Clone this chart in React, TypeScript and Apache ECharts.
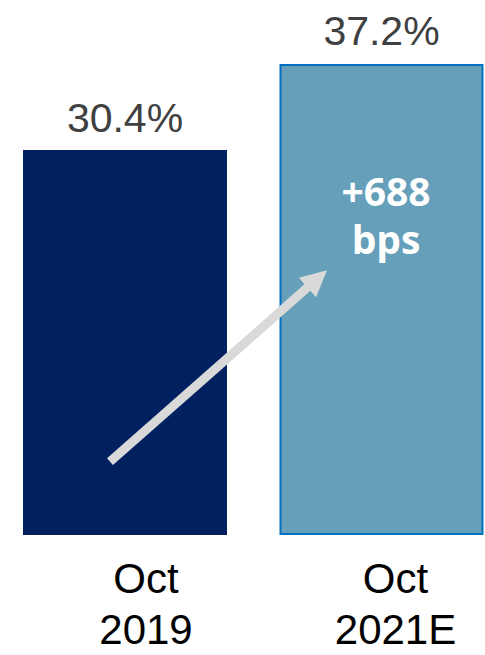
import React, { useEffect, useRef } from "react";
import * as echarts from "echarts";

const categories = ["Oct\n2019", "Oct\n2021E"];
const values = [30.4, 37.2];
const valueLabels = ["30.4%", "37.2%"];
const changeLabel = "+688\nbps";

export default function App() {
  const ref = useRef<HTMLDivElement>(null);
  useEffect(() => {
    if (!ref.current) return;
    const chart = echarts.init(ref.current, null, { renderer: "svg" });
    const labelPads = [[0, 0, 0, 42], [0, 0, 0, 28]];
    chart.setOption({
      animation: false,
      grid: { left: 125, right: 103.5, top: 28.5, bottom: 118.5, containLabel: false },
      xAxis: {
        type: "category",
        boundaryGap: false,
        data: categories.map((c, i) => ({ value: c, textStyle: { padding: labelPads[i] } })),
        axisLine: { show: false },
        axisTick: { show: false },
        splitLine: { show: false },
        axisLabel: {
          margin: 18,
          fontSize: 42,
          lineHeight: 51,
          color: "#000000",
          fontFamily: "Liberation Sans",
          interval: 0,
        },
      },
      yAxis: { type: "value", min: 0, max: 40, show: false, splitLine: { show: false } },
      series: [
        {
          type: "bar",
          barWidth: 204,
          clip: false,
          data: values.map((v, i) => ({
            value: v,
            itemStyle:
              i === 0
                ? { color: "#002060" }
                : { color: "#659FBA", borderColor: "#0070C0", borderWidth: 2 },
          })),
          label: {
            show: true,
            position: "top",
            distance: 12,
            fontSize: 41,
            color: "#404040",
            fontFamily: "Liberation Sans",
            formatter: (p: any) => valueLabels[p.dataIndex],
          },
        },
      ],
    });
    // annotation arrow and change text, positioned from the chart's scales
    const tail = chart.convertToPixel({ gridIndex: 0 }, [0, 5.8]) as number[];
    const tip = chart.convertToPixel({ gridIndex: 0 }, [1, 20.9]) as number[];
    const t0 = [tail[0] - 15, tail[1]];
    const t1 = [tip[0] - 54.5, tip[1]];
    const dx = t1[0] - t0[0];
    const dy = t1[1] - t0[1];
    const len = Math.sqrt(dx * dx + dy * dy);
    const ux = dx / len;
    const uy = dy / len;
    const headLen = 26;
    const halfW = 13;
    const base = [t1[0] - ux * headLen, t1[1] - uy * headLen];
    const px = -uy;
    const py = ux;
    const txt = chart.convertToPixel({ gridIndex: 0 }, [1, 25.3]) as number[];
    chart.setOption({
      graphic: [
        {
          type: "line",
          z: 100,
          zlevel: 1,
          shape: { x1: t0[0], y1: t0[1], x2: base[0] + ux * 2, y2: base[1] + uy * 2 },
          style: { stroke: "#D9D9D9", lineWidth: 9, lineCap: "butt" },
        },
        {
          type: "polygon",
          z: 100,
          zlevel: 1,
          shape: {
            points: [
              [t1[0], t1[1]],
              [base[0] + px * halfW, base[1] + py * halfW],
              [base[0] - px * halfW, base[1] - py * halfW],
            ],
          },
          style: { fill: "#D9D9D9" },
        },
        {
          type: "text",
          z: 100,
          zlevel: 1,
          x: txt[0] + 4.5,
          y: txt[1],
          style: {
            text: changeLabel,
            fill: "#FFFFFF",
            fontSize: 39,
            fontWeight: "bold",
            fontFamily: "Open Sans",
            lineHeight: 48,
            align: "center",
            verticalAlign: "middle",
          },
        },
      ],
    });
    return () => chart.dispose();
  }, []);
  return (
    <div
      ref={ref}
      style={{ position: "fixed", left: 0, top: 0, width: 485, height: 655, background: "#ffffff" }}
    />
  );
}
